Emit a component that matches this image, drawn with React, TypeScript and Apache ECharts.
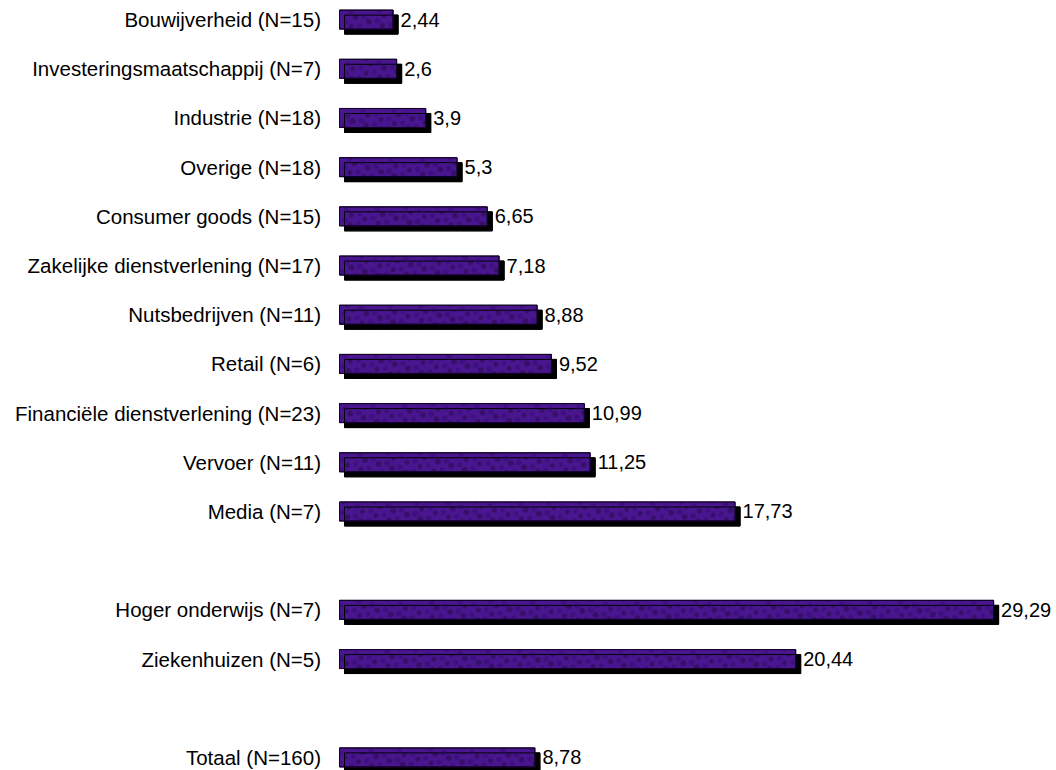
import React, { useEffect, useRef } from "react";
import * as echarts from "echarts";

const categories = [
  "Bouwijverheid (N=15)",
  "Investeringsmaatschappij (N=7)",
  "Industrie (N=18)",
  "Overige (N=18)",
  "Consumer goods (N=15)",
  "Zakelijke dienstverlening (N=17)",
  "Nutsbedrijven (N=11)",
  "Retail (N=6)",
  "Financiële dienstverlening (N=23)",
  "Vervoer (N=11)",
  "Media (N=7)",
  " ",
  "Hoger onderwijs (N=7)",
  "Ziekenhuizen (N=5)",
  "  ",
  "Totaal (N=160)",
];

const values: (number | string)[] = [
  2.44, 2.6, 3.9, 5.3, 6.65, 7.18, 8.88, 9.52, 10.99, 11.25, 17.73, "-", 29.29, 20.44, "-", 8.78,
];

const FONT = "'Liberation Sans', Arial, sans-serif";

export default function App() {
  const ref = useRef<HTMLDivElement>(null);
  useEffect(() => {
    if (!ref.current) return;
    const chart = echarts.init(ref.current, undefined, { renderer: "svg" });
    chart.setOption({
      animation: false,
      backgroundColor: "#ffffff",
      grid: { left: 339, right: 46, top: 0, bottom: 0, containLabel: false },
      xAxis: {
        type: "value",
        min: 0,
        max: 30,
        show: false,
      },
      yAxis: {
        type: "category",
        inverse: true,
        data: categories,
        axisLine: { show: false },
        axisTick: { show: false },
        splitLine: { show: false },
        axisLabel: {
          color: "#000",
          fontFamily: FONT,
          fontSize: 20.5,
          margin: 18,
        },
      },
      series: [
        {
          type: "bar",
          data: values,
          barWidth: 20,
          itemStyle: {
            color: "#4a1890",
            borderColor: "#14052a",
            borderWidth: 1,
            shadowColor: "#000000",
            shadowBlur: 0,
            shadowOffsetX: 5,
            shadowOffsetY: 5,
            decal: {
              symbol: "circle",
              symbolSize: 1,
              color: "rgba(35, 5, 70, 0.28)",
              dashArrayX: [[8, 6], [5, 9]],
              dashArrayY: [6, 4],
              rotation: 0.3,
            },
          },
          label: {
            show: true,
            position: "right",
            distance: 7,
            color: "#000",
            fontFamily: FONT,
            fontSize: 20,
            formatter: (p: any) => String(p.value).replace(".", ","),
          },
        },
      ],
    });
    return () => chart.dispose();
  }, []);
  return (
    <div
      ref={ref}
      style={{ position: "fixed", left: 0, top: -5, width: 1056, height: 787, background: "#fff" }}
    />
  );
}
